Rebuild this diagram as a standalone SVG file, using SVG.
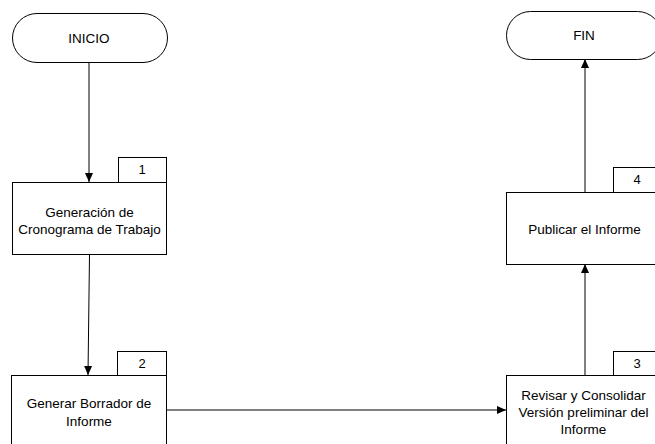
<svg xmlns="http://www.w3.org/2000/svg" width="655" height="444" viewBox="0 0 655 444">
<defs>
<marker id="arr" markerWidth="10" markerHeight="10" refX="9" refY="5" orient="auto" markerUnits="userSpaceOnUse">
<path d="M0,1 L9,5 L0,9 Z" fill="#000"/>
</marker>
<style>
.box{fill:#fff;stroke:#000;stroke-width:1}
.lbl{font-family:"Liberation Sans",Arial,sans-serif;font-size:13.5px;fill:#000;text-anchor:middle}
.num{font-family:"Liberation Sans",Arial,sans-serif;font-size:13px;fill:#000;text-anchor:middle}
.con{stroke:#000;stroke-width:1;fill:none;marker-end:url(#arr)}
</style>
</defs>
<rect width="655" height="444" fill="#fff"/>
<g id="connectors">
<line class="con" x1="89" y1="62" x2="89" y2="182"/>
<line class="con" x1="89.5" y1="254" x2="88" y2="375"/>
<line class="con" x1="166" y1="410" x2="506" y2="410"/>
<line class="con" x1="585" y1="375" x2="585" y2="264"/>
<line class="con" x1="585" y1="192" x2="585" y2="59"/>
</g>
<g id="inicio">
<rect class="box" x="12.5" y="13.5" width="155" height="49" rx="24.5" ry="24.5"/>
<text class="lbl" x="89" y="42.5">INICIO</text>
</g>
<g id="fin">
<rect class="box" x="506.5" y="11.5" width="155" height="48" rx="24" ry="24"/>
<text class="lbl" x="584" y="39.5">FIN</text>
</g>
<g id="n1">
<rect class="box" x="118.5" y="157.5" width="48" height="25"/>
<text class="num" x="142" y="174">1</text>
<rect class="box" x="12.5" y="182.5" width="154" height="72"/>
<text class="lbl" x="89.5" y="217">Generación de</text>
<text class="lbl" x="89.5" y="233.5">Cronograma de Trabajo</text>
</g>
<g id="n2">
<rect class="box" x="117.5" y="351.5" width="49" height="24"/>
<text class="num" x="142" y="368">2</text>
<rect class="box" x="11.5" y="375.5" width="155" height="80"/>
<text class="lbl" x="89" y="408">Generar Borrador de</text>
<text class="lbl" x="89" y="425.5">Informe</text>
</g>
<g id="n3">
<rect class="box" x="613.5" y="351.5" width="48" height="24"/>
<text class="num" x="637" y="368">3</text>
<rect class="box" x="506.5" y="375.5" width="155" height="80"/>
<text class="lbl" x="583.5" y="400">Revisar y Consolidar</text>
<text class="lbl" x="583.5" y="416.5">Versión preliminar del</text>
<text class="lbl" x="583.5" y="433.5">Informe</text>
</g>
<g id="n4">
<rect class="box" x="613.5" y="167.5" width="48" height="25"/>
<text class="num" x="637" y="184">4</text>
<rect class="box" x="506.5" y="192.5" width="155" height="72"/>
<text class="lbl" x="584.5" y="234">Publicar el Informe</text>
</g>
</svg>
